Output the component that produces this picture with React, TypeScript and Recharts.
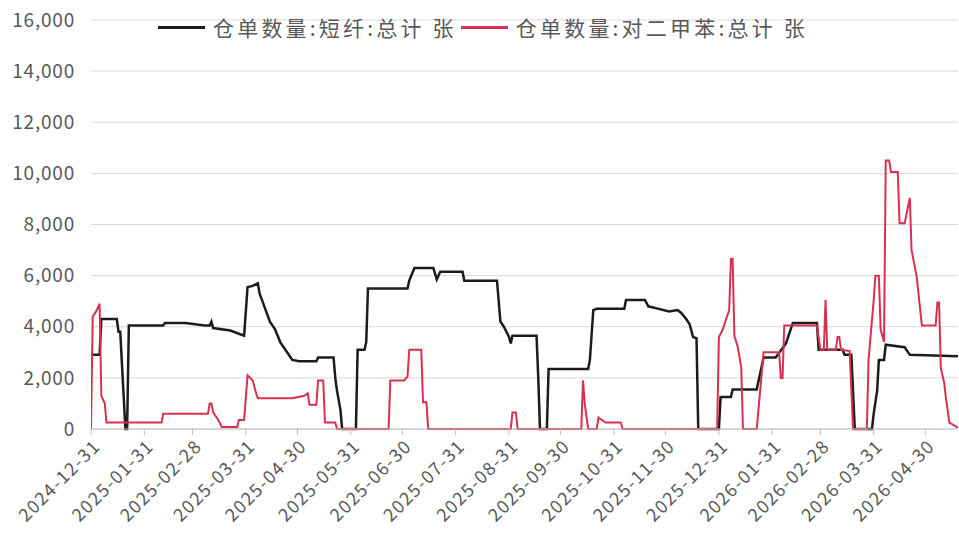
import React from "react"
import { LineChart, Line, XAxis, YAxis, CartesianGrid } from "recharts"

// 短纤 warehouse receipts (date, value)
const fiberDates = [
    "2024-12-31", "2025-01-05", "2025-01-06", "2025-01-15", "2025-01-16", "2025-01-17", "2025-01-20", "2025-01-21",
    "2025-01-22", "2025-02-11", "2025-02-12", "2025-02-24", "2025-03-07", "2025-03-10", "2025-03-11", "2025-03-12",
    "2025-03-22", "2025-03-30", "2025-04-01", "2025-04-04", "2025-04-07", "2025-04-08", "2025-04-11", "2025-04-14",
    "2025-04-17", "2025-04-20", "2025-04-23", "2025-04-27", "2025-05-01", "2025-05-11", "2025-05-12", "2025-05-21",
    "2025-05-22", "2025-05-23", "2025-05-25", "2025-05-26", "2025-06-03", "2025-06-04", "2025-06-08", "2025-06-09",
    "2025-06-10", "2025-07-03", "2025-07-04", "2025-07-07", "2025-07-18", "2025-07-20", "2025-07-22", "2025-08-04",
    "2025-08-05", "2025-08-24", "2025-08-26", "2025-08-28", "2025-08-31", "2025-09-01", "2025-09-02", "2025-09-16",
    "2025-09-17", "2025-09-18", "2025-09-22", "2025-09-23", "2025-10-16", "2025-10-17", "2025-10-19", "2025-10-21",
    "2025-11-06", "2025-11-07", "2025-11-18", "2025-11-20", "2025-11-26", "2025-12-02", "2025-12-07", "2025-12-09",
    "2025-12-12", "2025-12-14", "2025-12-16", "2025-12-18", "2025-12-19", "2025-12-31", "2026-01-01", "2026-01-07",
    "2026-01-08", "2026-01-22", "2026-01-26", "2026-02-02", "2026-02-08", "2026-02-10", "2026-02-12", "2026-02-26",
    "2026-02-27", "2026-03-13", "2026-03-14", "2026-03-18", "2026-03-20", "2026-03-30", "2026-03-31", "2026-04-02",
    "2026-04-03", "2026-04-06", "2026-04-07", "2026-04-18", "2026-04-21", "2026-05-19",
]
const fiberValues = [
    2900, 2900, 4300, 4300, 3800, 3800, 0, 0,
    4050, 4050, 4150, 4150, 4050, 4050, 4200, 3950,
    3850, 3650, 5550, 5600, 5700, 5300, 4750, 4200,
    3900, 3400, 3100, 2700, 2650, 2650, 2800, 2800,
    2000, 1500, 750, 0, 0, 3100, 3100, 3400,
    5500, 5500, 5800, 6300, 6300, 5850, 6150, 6150,
    5800, 5800, 4200, 4000, 3600, 3350, 3650, 3650,
    2000, 0, 0, 2350, 2350, 2700, 4650, 4700,
    4700, 5050, 5050, 4800, 4700, 4600, 4650, 4550,
    4300, 4100, 3600, 3550, 0, 0, 1250, 1250,
    1550, 1550, 2800, 2800, 3350, 3750, 4150, 4150,
    3100, 3100, 2900, 2900, 0, 0, 600, 1500,
    2700, 2700, 3300, 3200, 2900, 2850,
]

// 对二甲苯 warehouse receipts (date, value)
const pxDates = [
    "2024-12-31", "2025-01-01", "2025-01-03", "2025-01-05", "2025-01-06", "2025-01-08", "2025-01-09", "2025-02-10",
    "2025-02-11", "2025-03-09", "2025-03-10", "2025-03-11", "2025-03-12", "2025-03-15", "2025-03-17", "2025-03-26",
    "2025-03-27", "2025-03-30", "2025-04-01", "2025-04-04", "2025-04-06", "2025-04-07", "2025-04-27", "2025-05-04",
    "2025-05-06", "2025-05-07", "2025-05-11", "2025-05-12", "2025-05-15", "2025-05-16", "2025-05-22", "2025-05-23",
    "2025-06-22", "2025-06-23", "2025-07-01", "2025-07-03", "2025-07-04", "2025-07-11", "2025-07-12", "2025-07-14",
    "2025-07-15", "2025-09-01", "2025-09-02", "2025-09-04", "2025-09-05", "2025-10-12", "2025-10-13", "2025-10-14",
    "2025-10-16", "2025-10-21", "2025-10-22", "2025-10-24", "2025-10-26", "2025-11-04", "2025-11-05", "2025-12-30",
    "2025-12-31", "2026-01-02", "2026-01-06", "2026-01-07", "2026-01-08", "2026-01-09", "2026-01-11", "2026-01-13",
    "2026-01-14", "2026-01-22", "2026-01-26", "2026-02-04", "2026-02-05", "2026-02-06", "2026-02-07", "2026-02-26",
    "2026-02-28", "2026-03-02", "2026-03-03", "2026-03-04", "2026-03-09", "2026-03-10", "2026-03-11", "2026-03-12",
    "2026-03-17", "2026-03-19", "2026-03-27", "2026-03-28", "2026-03-31", "2026-04-01", "2026-04-03", "2026-04-04",
    "2026-04-06", "2026-04-07", "2026-04-09", "2026-04-10", "2026-04-14", "2026-04-15", "2026-04-18", "2026-04-21",
    "2026-04-22", "2026-04-25", "2026-04-28", "2026-05-06", "2026-05-07", "2026-05-08", "2026-05-09", "2026-05-11",
    "2026-05-12", "2026-05-14", "2026-05-19",
]
const pxValues = [
    0, 4400, 4600, 4900, 1300, 1000, 250, 250,
    600, 600, 1000, 1000, 650, 350, 80, 80,
    350, 350, 2100, 1900, 1400, 1200, 1200, 1300,
    1400, 950, 950, 1900, 1900, 250, 250, 0,
    0, 1900, 1900, 2050, 3100, 3100, 1050, 1050,
    0, 0, 650, 650, 0, 0, 1900, 1000,
    0, 0, 450, 350, 250, 250, 0, 0,
    3600, 3850, 4650, 6650, 6650, 3650, 3200, 2400,
    0, 0, 3000, 3000, 2000, 2000, 4050, 4050,
    3100, 3100, 5050, 3100, 3100, 3600, 3600, 3100,
    3050, 0, 0, 2700, 5050, 6000, 6000, 3900,
    3400, 10500, 10500, 10050, 10050, 8050, 8050, 9050,
    7000, 5950, 4050, 4050, 4950, 4950, 2400, 1800,
    1200, 250, 50,
]

const tickDates = [
    "2024-12-31", "2025-01-31", "2025-02-28", "2025-03-31", "2025-04-30", "2025-05-31",
    "2025-06-30", "2025-07-31", "2025-08-31", "2025-09-30", "2025-10-31", "2025-11-30",
    "2025-12-31", "2026-01-31", "2026-02-28", "2026-03-31", "2026-04-30",
]
const yTicks = [0, 2000, 4000, 6000, 8000, 10000, 12000, 14000, 16000]

const fiberName = "仓单数量:短纤:总计 张"
const pxName = "仓单数量:对二甲苯:总计 张"

const BASE = Date.UTC(2024, 11, 31)
const dayOf = (s: string) => {
    const [y, m, d] = s.split("-").map(Number)
    return (Date.UTC(y, m - 1, d) - BASE) / 86400000
}
const toDate = (t: number) => new Date(BASE + t * 86400000).toISOString().slice(0, 10)

const fiberData = fiberDates.map((d, i) => ({ t: dayOf(d), v: fiberValues[i] }))
const pxData = pxDates.map((d, i) => ({ t: dayOf(d), v: pxValues[i] }))

const FONT = "'Noto Sans CJK SC', 'Noto Sans', sans-serif"
const TEXT = "#595959"

function DateTick({ x, y, payload }: any) {
    return (
        <text
            transform={`translate(${x + 6},${y + 6}) rotate(-45)`}
            textAnchor="end"
            dy="0.35em"
            fontSize={18}
            letterSpacing={1.4}
            fontFamily={FONT}
            fill={TEXT}
        >
            {toDate(payload.value)}
        </text>
    )
}

export default function App() {
    return (
        <div style={{ position: "absolute", left: 0, top: 0, width: 959, height: 543, background: "#fff" }}>
            <LineChart width={959} height={543} margin={{ top: 20, right: 1, left: 0, bottom: 0 }}>
                <CartesianGrid vertical={false} stroke="#d9d9d9" />
                <XAxis
                    type="number"
                    dataKey="t"
                    domain={[0, 504]}
                    ticks={tickDates.map(dayOf)}
                    interval={0}
                    tick={<DateTick />}
                    stroke="#bfbfbf"
                    tickSize={6}
                    height={114}
                    allowDataOverflow
                />
                <YAxis
                    domain={[0, 16000]}
                    ticks={yTicks}
                    width={91}
                    axisLine={false}
                    tickLine={false}
                    tickSize={0}
                    tickMargin={16}
                    tick={{ fontSize: 19, fontFamily: FONT, fill: TEXT, letterSpacing: 0.8 }}
                    tickFormatter={(v) => v.toLocaleString("en-US")}
                />
                <Line data={fiberData} dataKey="v" name={fiberName} type="linear" stroke="#1c1c1c" strokeWidth={2.5} dot={false} isAnimationActive={false} />
                <Line data={pxData} dataKey="v" name={pxName} type="linear" stroke="#d9304f" strokeWidth={2} dot={false} isAnimationActive={false} />
            </LineChart>
            <div
                style={{
                    position: "absolute",
                    left: 158,
                    top: 13,
                    display: "flex",
                    alignItems: "center",
                    fontFamily: FONT,
                    fontSize: 21,
                    letterSpacing: 3.2,
                    color: TEXT,
                    whiteSpace: "nowrap",
                    lineHeight: "28px",
                }}
            >
                <span style={{ display: "inline-block", width: 47, height: 3, background: "#1c1c1c", marginRight: 8 }} />
                <span>{fiberName}</span>
                <span style={{ display: "inline-block", width: 47, height: 3, background: "#d9304f", margin: "0 8px 0 4px" }} />
                <span>{pxName}</span>
            </div>
        </div>
    )
}
